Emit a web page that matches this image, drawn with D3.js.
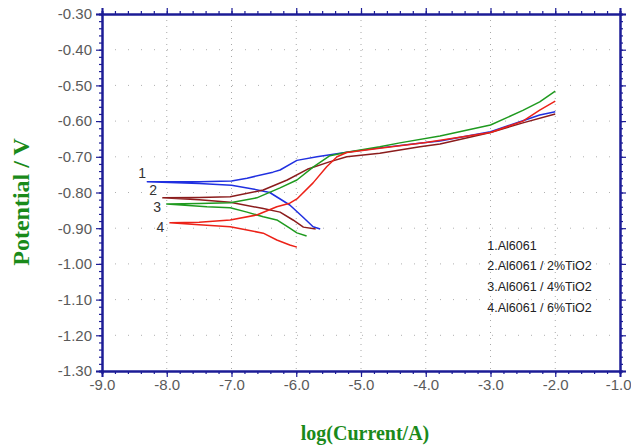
<!DOCTYPE html>
<html>
<head>
<meta charset="utf-8">
<script src="https://cdn.jsdelivr.net/npm/d3@7"></script>
<style>
    body { margin: 0; background: #fff; }
    svg { display: block; }
</style>
</head>
<body>
<div id="chart-container"></div>
<script>
// Polarization curves: log(current) vs potential
var curve1Log = [-5.63, -5.74, -5.89, -6.10, -6.41, -6.67, -7.00, -7.50, -8.30, -7.50, -7.00, -6.76, -6.36, -6.25, -5.99, -5.68, -5.22, -4.71, -4.00, -3.78, -3.00, -2.24, -2.00];
var curve1E   = [-0.902, -0.896, -0.870, -0.835, -0.800, -0.790, -0.780, -0.775, -0.770, -0.770, -0.768, -0.760, -0.743, -0.737, -0.710, -0.700, -0.687, -0.675, -0.660, -0.656, -0.630, -0.583, -0.574];

var curve2Log = [-5.70, -5.89, -6.05, -6.25, -6.51, -7.02, -7.50, -8.06, -7.50, -7.02, -6.51, -6.14, -5.83, -5.50, -5.22, -4.71, -4.09, -3.78, -3.00, -2.50, -2.00];
var curve2E   = [-0.902, -0.897, -0.877, -0.855, -0.845, -0.827, -0.820, -0.815, -0.814, -0.812, -0.793, -0.765, -0.735, -0.715, -0.700, -0.690, -0.672, -0.664, -0.632, -0.605, -0.580];

var curve3Log = [-5.84, -5.99, -6.10, -6.30, -6.51, -6.76, -7.02, -7.38, -8.00, -7.50, -7.02, -6.61, -6.25, -5.99, -5.74, -5.48, -5.22, -4.71, -4.40, -3.78, -3.00, -2.50, -2.24, -2.00];
var curve3E   = [-0.922, -0.913, -0.900, -0.877, -0.868, -0.855, -0.843, -0.840, -0.832, -0.831, -0.829, -0.815, -0.787, -0.765, -0.729, -0.697, -0.687, -0.672, -0.661, -0.642, -0.611, -0.570, -0.546, -0.516];

var curve4Log = [-5.99, -6.10, -6.30, -6.51, -6.76, -7.02, -7.50, -7.95, -7.50, -7.02, -6.61, -6.30, -6.10, -5.99, -5.74, -5.53, -5.37, -5.22, -4.71, -4.00, -3.00, -2.50, -2.24, -2.00];
var curve4E   = [-0.953, -0.947, -0.933, -0.914, -0.905, -0.896, -0.890, -0.885, -0.883, -0.877, -0.863, -0.840, -0.830, -0.818, -0.773, -0.728, -0.700, -0.688, -0.676, -0.660, -0.632, -0.600, -0.569, -0.544];

var curveColors = ['#2030e0', '#8b1c1c', '#1f9a1f', '#ec2218'];
var curveNames = ['1', '2', '3', '4'];
var legendLabels = ['1.Al6061', '2.Al6061 / 2%TiO2', '3.Al6061 / 4%TiO2', '4.Al6061 / 6%TiO2'];

var xTicks = [-9, -8, -7, -6, -5, -4, -3, -2, -1];
var yTicks = [-0.3, -0.4, -0.5, -0.6, -0.7, -0.8, -0.9, -1.0, -1.1, -1.2, -1.3];

var width = 631, height = 447;
var margin = { left: 102, right: 11, top: 14, bottom: 76 };
var axisColor = '#1c1c96';
var tickFont = '"Liberation Sans Narrow", "Arial Narrow", "Liberation Sans", sans-serif';

var svg = d3.select('#chart-container')
            .append('svg')
            .attr('width', width)
            .attr('height', height);

var x = d3.scaleLinear().domain([-9, -1]).range([margin.left, width - margin.right]);
var y = d3.scaleLinear().domain([-1.3, -0.3]).range([height - margin.bottom, margin.top]);

// plain hyphen instead of d3's unicode minus
function fmt(n) {
    return d => d.toFixed(n).replace('\u2212', '-');
}

// dotted grid
svg.append('g')
    .selectAll('line')
    .data(xTicks.slice(1, -1))
    .enter().append('line')
        .attr('x1', d => x(d)).attr('x2', d => x(d))
        .attr('y1', y(-0.3)).attr('y2', y(-1.3))
        .attr('stroke', '#a8a8a8')
        .attr('stroke-width', 1)
        .attr('stroke-dasharray', '1,5');

svg.append('g')
    .selectAll('line')
    .data(yTicks.slice(1, -1))
    .enter().append('line')
        .attr('x1', x(-9)).attr('x2', x(-1))
        .attr('y1', d => y(d)).attr('y2', d => y(d))
        .attr('stroke', '#b0b0b0')
        .attr('stroke-width', 1)
        .attr('stroke-dasharray', '1,12');

// axes
var xMinor = d3.range(-9, -0.99, 0.2);
var yMinor = d3.range(-1.3, -0.299, 0.02);

function styleAxis(g) {
    g.select('.domain').attr('stroke', axisColor).attr('stroke-width', 2);
    g.selectAll('.tick line').attr('stroke', axisColor).attr('stroke-width', 1.2);
    g.selectAll('text')
        .attr('fill', '#5a5a5a')
        .style('font-family', tickFont)
        .style('font-size', '15px');
}

function minorAxis(axis, vals) {
    return axis.tickValues(vals).tickSize(3).tickFormat('');
}

// bottom
svg.append('g')
    .attr('transform', 'translate(0,' + y(-1.3) + ')')
    .call(minorAxis(d3.axisBottom(x), xMinor))
    .call(styleAxis);
var xAxisG = svg.append('g')
    .attr('transform', 'translate(0,' + y(-1.3) + ')')
    .call(d3.axisBottom(x).tickValues(xTicks).tickSize(6).tickPadding(2).tickFormat(fmt(1)))
    .call(styleAxis);

// last label sits at the window edge, keep it inside
xAxisG.selectAll('.tick')
    .filter(d => d === -1)
    .select('text')
        .attr('text-anchor', 'end')
        .attr('dx', 11);

// top
svg.append('g')
    .attr('transform', 'translate(0,' + y(-0.3) + ')')
    .call(minorAxis(d3.axisTop(x), xMinor))
    .call(styleAxis);
svg.append('g')
    .attr('transform', 'translate(0,' + y(-0.3) + ')')
    .call(d3.axisTop(x).tickValues(xTicks).tickSize(6).tickFormat(''))
    .call(styleAxis);

// left
svg.append('g')
    .attr('transform', 'translate(' + x(-9) + ',0)')
    .call(minorAxis(d3.axisLeft(y), yMinor))
    .call(styleAxis);
svg.append('g')
    .attr('transform', 'translate(' + x(-9) + ',0)')
    .call(d3.axisLeft(y).tickValues(yTicks).tickSize(6).tickPadding(4).tickFormat(fmt(2)))
    .call(styleAxis);

// right
svg.append('g')
    .attr('transform', 'translate(' + x(-1) + ',0)')
    .call(minorAxis(d3.axisRight(y), yMinor))
    .call(styleAxis);
svg.append('g')
    .attr('transform', 'translate(' + x(-1) + ',0)')
    .call(d3.axisRight(y).tickValues(yTicks).tickSize(6).tickFormat(''))
    .call(styleAxis);

// curves
var curves = [
    { lx: curve1Log, ey: curve1E },
    { lx: curve2Log, ey: curve2E },
    { lx: curve3Log, ey: curve3E },
    { lx: curve4Log, ey: curve4E }
];

var line = d3.line()
    .x(d => x(d[0]))
    .y(d => y(d[1]));

curves.forEach(function (c, i) {
    var pts = c.lx.map((v, j) => [v, c.ey[j]]);
    svg.append('path')
        .datum(pts)
        .attr('d', line)
        .attr('fill', 'none')
        .attr('stroke', curveColors[i])
        .attr('stroke-width', 1.5)
        .attr('stroke-linejoin', 'round');
});

// numbers next to the curve starts
var numLabelPos = [[-8.38, -0.759], [-8.21, -0.807], [-8.15, -0.855], [-8.10, -0.911]];
svg.append('g')
    .selectAll('text')
    .data(curveNames)
    .enter().append('text')
        .attr('x', (d, i) => x(numLabelPos[i][0]))
        .attr('y', (d, i) => y(numLabelPos[i][1]))
        .attr('text-anchor', 'middle')
        .attr('fill', '#333')
        .style('font-family', tickFont)
        .style('font-size', '14px')
        .text(d => d);

// legend text
svg.append('g')
    .selectAll('text')
    .data(legendLabels)
    .enter().append('text')
        .attr('x', x(-3.05))
        .attr('y', (d, i) => y(-0.96) + i * 20.7)
        .attr('fill', '#222')
        .style('font-family', tickFont)
        .style('font-size', '12.5px')
        .text(d => d);

// axis titles
svg.append('text')
    .attr('x', (x(-9) + x(-1)) / 2 + 4)
    .attr('y', 440)
    .attr('text-anchor', 'middle')
    .attr('fill', '#1a8a1a')
    .style('font-family', '"Liberation Serif", "Times New Roman", serif')
    .style('font-weight', 'bold')
    .style('font-size', '20px')
    .text('log(Current/A)');

svg.append('text')
    .attr('transform', 'translate(29,' + 202 + ') rotate(-90)')
    .attr('text-anchor', 'middle')
    .attr('fill', '#1a8a1a')
    .style('font-family', '"Liberation Serif", "Times New Roman", serif')
    .style('font-weight', 'bold')
    .style('font-size', '24px')
    .text('Potential / V');
</script>
</body>
</html>
